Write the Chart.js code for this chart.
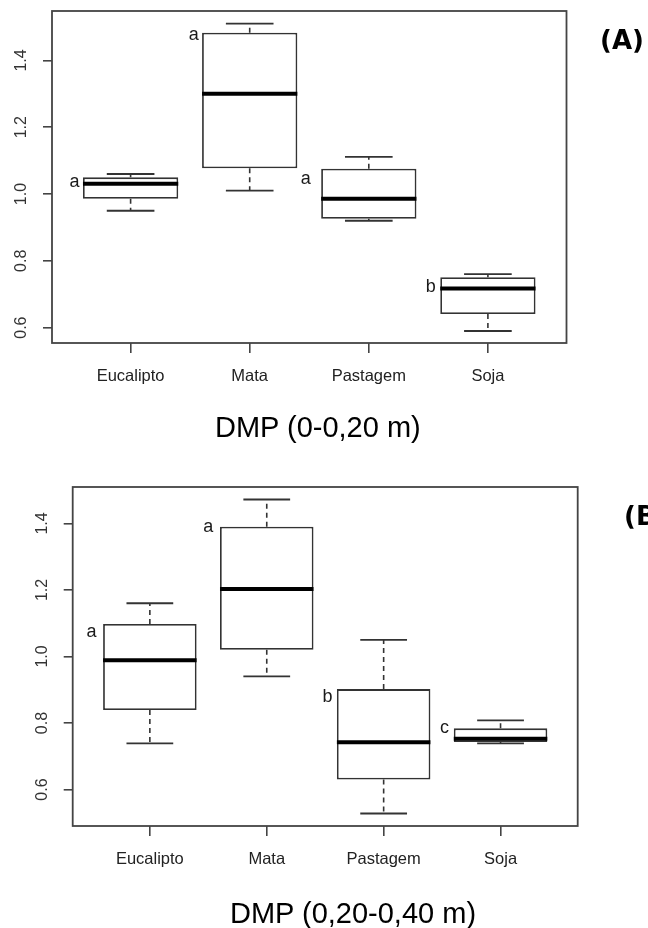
<!DOCTYPE html>
<html>
<head>
<meta charset="utf-8">
<script src="https://cdn.jsdelivr.net/npm/chart.js@4.4.0/dist/chart.umd.min.js"></script>
<style>
  html, body { margin: 0; padding: 0; background: #fff; }
  body { position: relative; width: 648px; height: 928px; overflow: hidden; }
  canvas { position: absolute; left: 0; }
  .titulo { position: absolute; font-family: 'Liberation Sans', Arial, sans-serif; font-size: 29px; line-height: 29px; color: #000; white-space: nowrap; }
  .painel { position: absolute; font-family: 'DejaVu Sans', sans-serif; font-weight: bold; font-size: 26px; line-height: 26px; color: #000; white-space: nowrap; }
</style>
</head>
<body>
<canvas id="chartA" width="648" height="460" style="top:0"></canvas>
<canvas id="chartB" width="648" height="464" style="top:464px"></canvas>
<div class="titulo" style="left:215px; top:413px">DMP (0-0,20 m)</div>
<div class="titulo" style="left:230px; top:899px">DMP (0,20-0,40 m)</div>
<div class="painel" style="left:600px; top:27px">(A)</div>
<div class="painel" style="left:624px; top:503px">(B)</div>

<script>
// ==================== DADOS ====================
const categorias = ['Eucalipto', 'Mata', 'Pastagem', 'Soja'];
const yTicks = [0.6, 0.8, 1.0, 1.2, 1.4];

// DMP 0-0,20 m
const minA = [0.95, 1.01, 0.92, 0.59];
const q1A = [0.986, 1.077, 0.926, 0.641];
const medA = [1.031, 1.30, 0.986, 0.717];
const q3A = [1.05, 1.483, 1.076, 0.751];
const maxA = [1.06, 1.51, 1.111, 0.76];
const letrasA = ['a', 'a', 'a', 'b'];
const letraYA = [1.037, 1.476, 1.045, 0.723];

// DMP 0,20-0,40 m
const minB = [0.739, 0.94, 0.528, 0.739];
const q1B = [0.839, 1.02, 0.63, 0.743];
const medB = [0.989, 1.203, 0.742, 0.753];
const q3B = [1.098, 1.39, 0.902, 0.784];
const maxB = [1.16, 1.472, 1.05, 0.808];
const letrasB = ['a', 'a', 'b', 'c'];
const letraYB = [1.073, 1.39, 0.878, 0.785];

const corLinha = '#333';

// Bigodes, mediana, letras e moldura
const boxExtras = {
    id: 'boxExtras',
    afterDatasetsDraw(chart, args, opts) {
        const { ctx, chartArea, scales: { x, y } } = chart;
        ctx.save();
        opts.med.forEach((m, i) => {
            const c = i + 1;
            const xc = x.getPixelForValue(c);
            const bl = x.getPixelForValue(c - 0.4);
            const br = x.getPixelForValue(c + 0.4);
            const cl = x.getPixelForValue(c - 0.2);
            const cr = x.getPixelForValue(c + 0.2);

            // bigodes tracejados
            ctx.strokeStyle = corLinha;
            ctx.lineWidth = 1.6;
            ctx.setLineDash([5, 4]);
            ctx.beginPath();
            ctx.moveTo(xc, y.getPixelForValue(opts.q3[i]));
            ctx.lineTo(xc, y.getPixelForValue(opts.max[i]));
            ctx.moveTo(xc, y.getPixelForValue(opts.q1[i]));
            ctx.lineTo(xc, y.getPixelForValue(opts.min[i]));
            ctx.stroke();

            // extremos
            ctx.setLineDash([]);
            ctx.lineWidth = 1.8;
            ctx.beginPath();
            ctx.moveTo(cl, y.getPixelForValue(opts.max[i]));
            ctx.lineTo(cr, y.getPixelForValue(opts.max[i]));
            ctx.moveTo(cl, y.getPixelForValue(opts.min[i]));
            ctx.lineTo(cr, y.getPixelForValue(opts.min[i]));
            ctx.stroke();

            // mediana
            ctx.strokeStyle = '#000';
            ctx.lineWidth = 4;
            ctx.beginPath();
            ctx.moveTo(bl, y.getPixelForValue(m));
            ctx.lineTo(br, y.getPixelForValue(m));
            ctx.stroke();

            // letras
            ctx.fillStyle = '#1a1a1a';
            ctx.font = '18px "Liberation Sans", Arial, sans-serif';
            ctx.textAlign = 'center';
            ctx.textBaseline = 'alphabetic';
            ctx.fillText(opts.letras[i], x.getPixelForValue(c + opts.dx[i]), y.getPixelForValue(opts.letraY[i]) + 5);
        });

        // moldura
        ctx.strokeStyle = '#444';
        ctx.lineWidth = 1.8;
        ctx.strokeRect(chartArea.left, chartArea.top, chartArea.right - chartArea.left, chartArea.bottom - chartArea.top);
        ctx.restore();
    }
};

function criarBoxplot(id, d) {
    const ctx = document.getElementById(id).getContext('2d');
    return new Chart(ctx, {
        type: 'bar',
        data: {
            datasets: [{
                data: categorias.map((c, i) => ({ x: i + 1, y: [d.q1[i], d.q3[i]] })),
                backgroundColor: '#fff',
                borderColor: corLinha,
                borderWidth: 1.8,
                borderSkipped: false,
                categoryPercentage: 0.8,
                barPercentage: 1.0
            }]
        },
        options: {
            responsive: false,
            animation: false,
            devicePixelRatio: 1,
            layout: { padding: d.padding },
            plugins: {
                legend: { display: false },
                tooltip: { enabled: false },
                boxExtras: d
            },
            scales: {
                x: {
                    type: 'linear',
                    min: 0.34,
                    max: 4.66,
                    offset: false,
                    afterBuildTicks: axis => { axis.ticks = categorias.map((c, i) => ({ value: i + 1 })); },
                    afterFit: axis => { axis.height = d.xAltura; },
                    grid: { display: true, offset: false, drawOnChartArea: false, tickLength: 10, color: '#444', lineWidth: 1.6 },
                    border: { display: false },
                    ticks: {
                        autoSkip: false,
                        maxRotation: 0,
                        padding: 14,
                        color: '#222',
                        font: { size: 16.5, family: '"Liberation Sans", Arial, sans-serif' },
                        callback: v => categorias[v - 1]
                    }
                },
                y: {
                    min: d.yMin,
                    max: d.yMax,
                    afterBuildTicks: axis => { axis.ticks = yTicks.map(v => ({ value: v })); },
                    afterFit: axis => {
                        axis.width = d.yLargura;
                        axis.paddingTop = 0;
                        axis.paddingBottom = 0;
                    },
                    grid: { display: true, drawOnChartArea: false, tickLength: 9, color: '#444', lineWidth: 1.6 },
                    border: { display: false },
                    ticks: {
                        minRotation: 90,
                        maxRotation: 90,
                        crossAlign: 'center',
                        padding: 10,
                        color: '#333',
                        font: { size: 16, family: '"Liberation Sans", Arial, sans-serif' },
                        callback: v => v.toFixed(1)
                    }
                }
            }
        },
        plugins: [boxExtras]
    });
}

criarBoxplot('chartA', {
    min: minA, q1: q1A, med: medA, q3: q3A, max: maxA,
    letras: letrasA, letraY: letraYA, dx: [-0.47, -0.47, -0.53, -0.48],
    yMin: 0.554, yMax: 1.548,
    yLargura: 52, xAltura: 117,
    padding: { top: 11, right: 81.5, left: 0, bottom: 0 }
});

criarBoxplot('chartB', {
    min: minB, q1: q1B, med: medB, q3: q3B, max: maxB,
    letras: letrasB, letraY: letraYB, dx: [-0.5, -0.5, -0.48, -0.48],
    yMin: 0.4905, yMax: 1.5095,
    yLargura: 72.7, xAltura: 102,
    padding: { top: 23, right: 70.3, left: 0, bottom: 0 }
});
</script>
</body>
</html>
